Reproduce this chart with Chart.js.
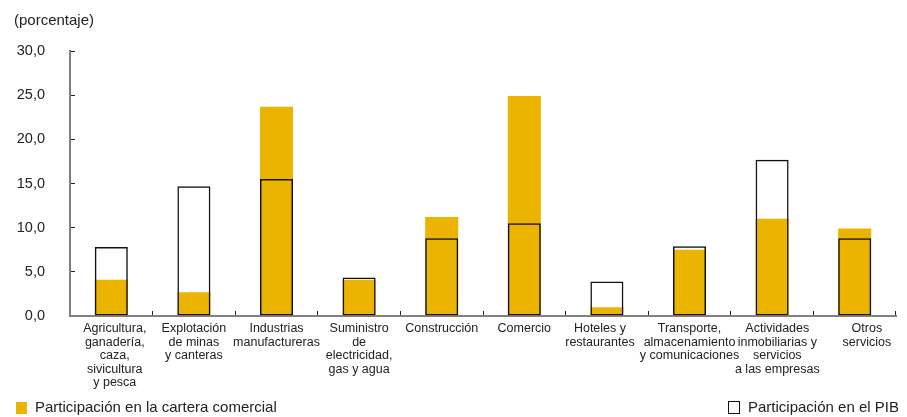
<!DOCTYPE html>
<html>
<head>
<meta charset="utf-8">
<script src="https://cdn.jsdelivr.net/npm/chart.js@4.4.1/dist/chart.umd.min.js"></script>
<style>
  html, body { margin: 0; padding: 0; background: #fff; }
  #wrap { position: relative; width: 907px; height: 417px; font-family: "Liberation Sans", Arial, sans-serif; color: #222; }
  #c { position: absolute; left: 0; top: 0; }
  .txt { position: absolute; white-space: nowrap; font-size: 15px; }
  .box { position: absolute; width: 11px; height: 12px; box-sizing: border-box; }
</style>
</head>
<body>
<div id="wrap">
  <canvas id="c" width="907" height="417"></canvas>
  <div class="txt" style="left:14px; top:11px;">(porcentaje)</div>
  <div class="box" style="left:16px; top:402px; background:#EAB400;"></div>
  <div class="txt" style="left:35px; top:398px;">Participación en la cartera comercial</div>
  <div class="box" style="left:728px; top:401px; border:1.5px solid #111; width:12px; height:13px;"></div>
  <div class="txt" style="left:748px; top:398px;">Participación en el PIB</div>
</div>
<script>
const categories = [
  ["Agricultura,", "ganadería,", "caza,", "sivicultura", "y pesca"],
  ["Explotación", "de minas", "y canteras"],
  ["Industrias", "manufactureras"],
  ["Suministro", "de", "electricidad,", "gas y agua"],
  ["Construcción"],
  ["Comercio"],
  ["Hoteles y", "restaurantes"],
  ["Transporte,", "almacenamiento", "y comunicaciones"],
  ["Actividades", "inmobiliarias y", "servicios", "a las empresas"],
  ["Otros", "servicios"]
];
const carteraComercial = [4.1, 2.7, 23.7, 4.1, 11.2, 24.9, 1.0, 7.5, 11.0, 9.9];
const participacionPIB = [7.8, 14.7, 15.5, 4.35, 8.8, 10.5, 3.9, 7.9, 17.7, 8.8];
const yMin = 0, yMax = 30, yStep = 5;

// label nudges (in spaces; + = right, - = left), mimicking the reference's hand-set labels
const labelNudge = [2, 0, 0, 0, 0, 0, -4, 0, 3, 7];
const nudged = categories.map((lines, i) => lines.map(l => {
  const n = labelNudge[i];
  return n > 0 ? ' '.repeat(n) + l : n < 0 ? l + ' '.repeat(-n) : l;
}));

const FONT = "'Liberation Sans', Arial, sans-serif";

new Chart(document.getElementById('c'), {
  type: 'bar',
  data: {
    labels: nudged,
    datasets: [
      {
        label: 'Participación en la cartera comercial',
        data: carteraComercial,
        backgroundColor: '#EAB400',
        borderWidth: 0,
        grouped: false,
        order: 2
      },
      {
        label: 'Participación en el PIB',
        data: participacionPIB,
        backgroundColor: 'rgba(0,0,0,0)',
        borderColor: '#111',
        borderWidth: 1.5,
        borderSkipped: false,
        grouped: false,
        order: 1
      }
    ]
  },
  options: {
    responsive: false,
    animation: false,
    devicePixelRatio: 1,
    barPercentage: 0.4,
    categoryPercentage: 1,
    layout: { padding: { top: 51, right: 11, bottom: 0, left: 0 } },
    plugins: {
      legend: { display: false },
      tooltip: { enabled: false },
      title: { display: false }
    },
    scales: {
      x: {
        grid: { display: true, drawOnChartArea: false, offset: true, tickLength: -5, color: '#222', lineWidth: 1 },
        border: { display: true, color: '#808080', width: 2 },
        ticks: {
          autoSkip: false, maxRotation: 0, minRotation: 0, padding: 11,
          color: '#222',
          font: { family: FONT, size: 12.5, lineHeight: 1.08 }
        },
        afterFit: s => { s.height = 101; }
      },
      y: {
        min: yMin, max: yMax,
        grid: { display: true, drawOnChartArea: false, tickLength: -5, color: '#222', lineWidth: 1 },
        border: { display: true, color: '#808080', width: 2 },
        ticks: {
          stepSize: yStep, padding: 30, color: '#222',
          font: { family: FONT, size: 14.5 },
          callback: v => v.toFixed(1).replace('.', ',')
        },
        afterFit: s => { s.width = 70; }
      }
    }
  }
});
</script>
</body>
</html>
